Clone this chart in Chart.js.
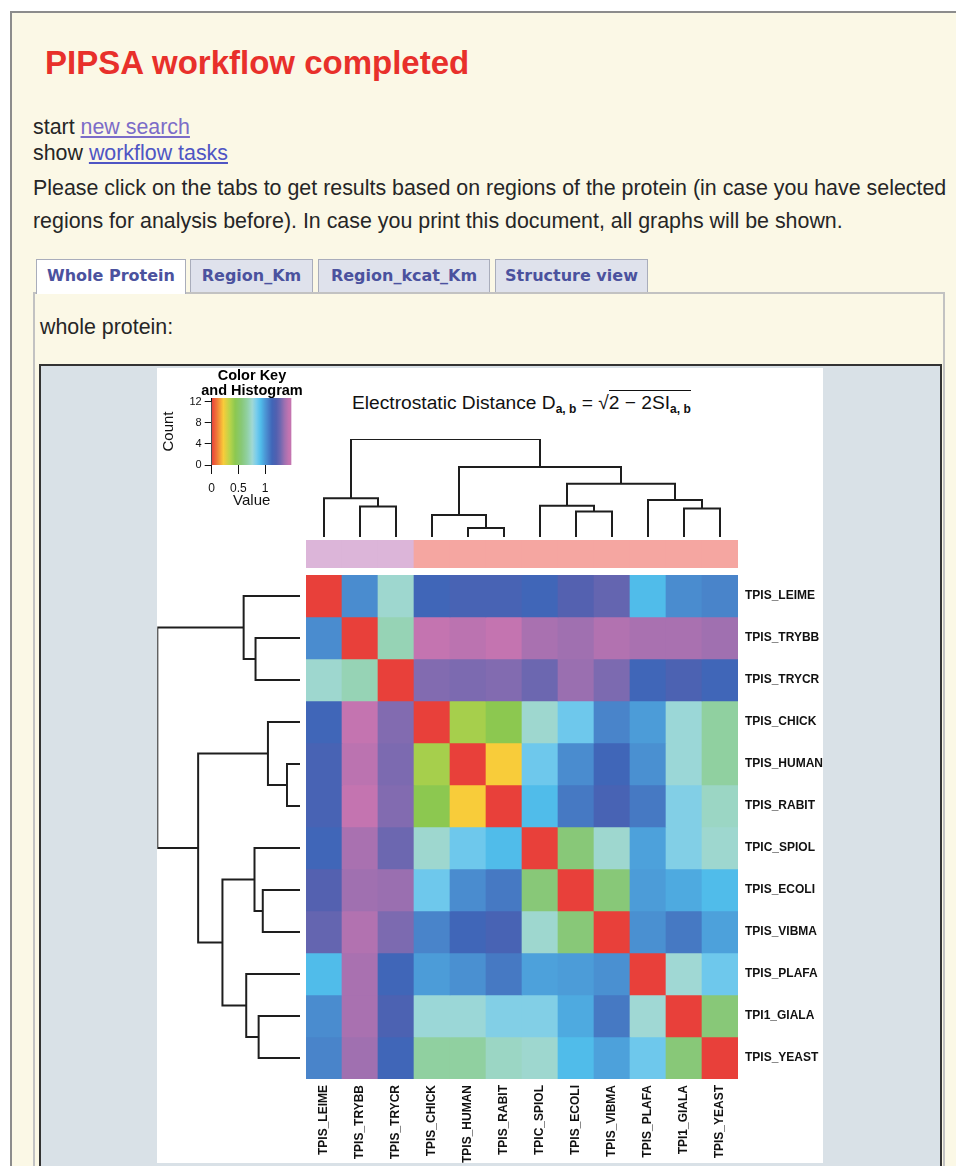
<!DOCTYPE html>
<html>
<head>
<meta charset="utf-8">
<title>PIPSA workflow completed</title>
<script src="https://cdn.jsdelivr.net/npm/chart.js@4.4.1/dist/chart.umd.min.js"></script>
<style>
  body { margin: 0; background: #fff; font-family: "Liberation Sans", Arial, sans-serif; color: #262626; }
  #page { position: relative; width: 956px; height: 1166px; overflow: hidden; }
  .abs { position: absolute; }
  #frame { left: 10px; top: 11px; width: 1000px; height: 1200px; border-left: 2px solid #8c8c8c; border-top: 2px solid #8c8c8c; background: #fbf8e6; }
  h1 { position: absolute; left: 45px; top: 43px; margin: 0; font-size: 33px; line-height: 40px; font-weight: bold; color: #e8302b; white-space: nowrap; }
  .txt { position: absolute; left: 33px; font-size: 21.4px; line-height: 24px; white-space: nowrap; }
  .visited { color: #7b6cc8; }
  .link { color: #4f55c4; }
  .tab { position: absolute; top: 259px; height: 33px; box-sizing: border-box; border: 1px solid #a9adbb; border-bottom: none;
         background: #dfe2ec; font-family: "DejaVu Sans", Verdana, sans-serif; font-weight: bold; font-size: 16px;
         line-height: 31px; color: #4b529e; text-align: center; white-space: nowrap; }
  .tab.active { background: #fff; height: 35px; z-index: 2; }
  #panel { left: 33px; top: 292px; width: 912px; height: 900px; box-sizing: border-box; border: 2px solid #c2c2c2; background: #fbf8e6; }
  #imgbox { left: 39px; top: 364px; width: 903px; height: 900px; box-sizing: border-box; border: 2px solid #333; background: #d9e1e7; }
  #figure { left: 157px; top: 368px; width: 666px; height: 795px; background: #fff; }
  #formula { left: 352px; top: 392px; font-size: 19.2px; line-height: 22px; color: #111; white-space: nowrap; }
  #formula sub { font-size: 12px; font-weight: bold; vertical-align: -4px; line-height: 0; }
  #formula .ov { border-top: 1.5px solid #111; padding-top: 1px; }
  canvas { position: absolute; }
</style>
</head>
<body>
<div id="page">
  <div id="frame" class="abs"></div>
  <h1>PIPSA workflow completed</h1>
  <div class="txt" style="top:115px">start <u class="visited">new search</u></div>
  <div class="txt" style="top:141px">show <u class="link">workflow tasks</u></div>
  <div class="txt" style="top:176px">Please click on the tabs to get results based on regions of the protein (in case you have selected</div>
  <div class="txt" style="top:209px">regions for analysis before). In case you print this document, all graphs will be shown.</div>

  <div id="panel" class="abs"></div>
  <div class="tab active" style="left:36px;width:150px">Whole Protein</div>
  <div class="tab" style="left:190px;width:123px">Region_Km</div>
  <div class="tab" style="left:318px;width:172px">Region_kcat_Km</div>
  <div class="tab" style="left:495px;width:153px">Structure view</div>

  <div class="txt" style="left:40px;top:315px">whole protein:</div>

  <div id="imgbox" class="abs"></div>
  <div id="figure" class="abs"></div>
  <div id="formula" class="abs">Electrostatic Distance D<sub>a, b</sub> = &radic;<span class="ov">2 &minus; 2SI<sub>a, b</sub></span></div>

  <canvas id="colorKey" width="184" height="141" style="left:160px;top:369px"></canvas>
  <canvas id="colDendro" width="432" height="102" style="left:306px;top:437px"></canvas>
  <canvas id="sideBar" width="432" height="28" style="left:306px;top:540px"></canvas>
  <canvas id="rowDendro" width="147" height="504" style="left:155px;top:575px"></canvas>
  <canvas id="heatmap" width="517" height="588" style="left:306px;top:575px"></canvas>
</div>

<script>
// proteins, same order for rows and columns (dendrogram order)
const rowNames = ['TPIS_LEIME', 'TPIS_TRYBB', 'TPIS_TRYCR', 'TPIS_CHICK', 'TPIS_HUMAN', 'TPIS_RABIT',
                  'TPIC_SPIOL', 'TPIS_ECOLI', 'TPIS_VIBMA', 'TPIS_PLAFA', 'TPI1_GIALA', 'TPIS_YEAST'];
const colNames = ['TPIS_LEIME', 'TPIS_TRYBB', 'TPIS_TRYCR', 'TPIS_CHICK', 'TPIS_HUMAN', 'TPIS_RABIT',
                  'TPIC_SPIOL', 'TPIS_ECOLI', 'TPIS_VIBMA', 'TPIS_PLAFA', 'TPI1_GIALA', 'TPIS_YEAST'];

// electrostatic distance
const distance = [
  [0,    1.03, 0.75, 1.13, 1.17, 1.17, 1.13, 1.22, 1.26, 0.92, 1.03, 1.05],
  [1.03, 0,    0.70, 1.45, 1.43, 1.45, 1.39, 1.37, 1.41, 1.39, 1.39, 1.37],
  [0.75, 0.70, 0,    1.32, 1.31, 1.32, 1.28, 1.36, 1.31, 1.13, 1.19, 1.13],
  [1.13, 1.45, 1.32, 0,    0.38, 0.44, 0.75, 0.86, 1.05, 0.99, 0.77, 0.66],
  [1.17, 1.43, 1.31, 0.38, 0,    0.22, 0.86, 1.03, 1.13, 1.02, 0.77, 0.66],
  [1.17, 1.45, 1.32, 0.44, 0.22, 0,    0.92, 1.08, 1.17, 1.08, 0.82, 0.73],
  [1.13, 1.39, 1.28, 0.75, 0.86, 0.92, 0,    0.56, 0.75, 0.98, 0.82, 0.75],
  [1.22, 1.37, 1.36, 0.86, 1.03, 1.08, 0.56, 0,    0.56, 0.99, 0.96, 0.92],
  [1.26, 1.41, 1.31, 1.05, 1.13, 1.17, 0.75, 0.56, 0,    1.02, 1.08, 0.98],
  [0.92, 1.39, 1.13, 0.99, 1.02, 1.08, 0.98, 0.99, 1.02, 0,    0.76, 0.86],
  [1.03, 1.39, 1.19, 0.77, 0.77, 0.82, 0.82, 0.96, 1.08, 0.76, 0,    0.56],
  [1.05, 1.37, 1.13, 0.66, 0.66, 0.73, 0.75, 0.92, 0.98, 0.86, 0.56, 0]
];

// cluster side colours above the columns
const colGroup = [1, 1, 1, 2, 2, 2, 2, 2, 2, 2, 2, 2];
const groupColors = ['#dcb5d9', '#f5a6a1'];

// hclust style merges: negative = leaf number, positive = earlier merge, then height
const merges = [
  [-5, -6, 0.126],
  [-4, 1, 0.31],
  [-8, -9, 0.36],
  [-11, -12, 0.40],
  [-2, -3, 0.43],
  [-7, 3, 0.44],
  [-10, 4, 0.52],
  [-1, 5, 0.545],
  [6, 7, 0.75],
  [2, 9, 0.985],
  [8, 10, 1.38]
];

// colour key
const keyStops  = [0, 0.10, 0.22, 0.34, 0.44, 0.56, 0.66, 0.76, 0.84, 0.92, 0.99, 1.06, 1.13, 1.21, 1.29, 1.37, 1.45];
const keyColors = ['#e8403a', '#f07a38', '#f8cc3a', '#b8d44a', '#8cc850', '#88c878', '#90d0a0', '#a0d8d4', '#78ccec',
                   '#50bcea', '#4c9cd8', '#4880c8', '#4066b8', '#5060b0', '#7068b0', '#a070b0', '#c474b0'];
const keyTicks = [0, 0.5, 1];
const histBreaks = [0, 0.05, 0.1, 0.15, 0.2, 0.25, 0.3, 0.35, 0.4, 0.45, 0.5, 0.55, 0.6, 0.65, 0.7, 0.75,
                    0.8, 0.85, 0.9, 0.95, 1.0, 1.05, 1.1, 1.15, 1.2, 1.25, 1.3, 1.35, 1.4, 1.45, 1.5];
const histCounts = [12, 0, 0, 0, 1, 0, 0, 1, 1, 0, 0, 3, 0, 2, 2, 7,
                    2, 3, 3, 5, 5, 5, 5, 4, 1, 2, 4, 5, 2, 2, 2];

Chart.defaults.font.family = '"Liberation Sans", Arial, sans-serif';
Chart.defaults.color = '#111';

function hexToRgb(h) {
  const n = parseInt(h.slice(1), 16);
  return [(n >> 16) & 255, (n >> 8) & 255, n & 255];
}

function colorFor(v) {
  let i = 1;
  while (i < keyStops.length - 1 && v > keyStops[i]) i++;
  const t = Math.max(0, Math.min(1, (v - keyStops[i - 1]) / (keyStops[i] - keyStops[i - 1])));
  const a = hexToRgb(keyColors[i - 1]), b = hexToRgb(keyColors[i]);
  const c = a.map((x, k) => Math.round(x + (b[k] - x) * t));
  return `rgb(${c[0]}, ${c[1]}, ${c[2]})`;
}

// turn the merges into bracket polylines: [leaf position, height]
function treeSegments(m) {
  const pos = [], hgt = [];
  const p = k => k < 0 ? -k - 1 : pos[k - 1];
  const h = k => k < 0 ? 0 : hgt[k - 1];
  m.forEach(([a, b, hh], i) => { pos[i] = (p(a) + p(b)) / 2; hgt[i] = hh; });
  return m.map(([a, b, hh]) => [[p(a), h(a)], [p(a), hh], [p(b), hh], [p(b), h(b)]]);
}

const segments = treeSegments(merges);
const treeTop = merges[merges.length - 1][2];
const noUi = {
  responsive: false,
  animation: false,
  events: [],
  plugins: { legend: { display: false }, tooltip: { enabled: false } }
};

// heatmap: one stacked dataset per row, coloured by distance
new Chart(document.getElementById('heatmap'), {
  type: 'bar',
  data: {
    labels: colNames,
    datasets: distance.map((row, r) => ({
      label: rowNames[r],
      data: row.map(() => 1),
      backgroundColor: row.map(colorFor),
      borderWidth: 0,
      categoryPercentage: 1,
      barPercentage: 1
    }))
  },
  options: {
    ...noUi,
    layout: { padding: 0 },
    scales: {
      x: {
        stacked: true,
        grid: { display: false, drawTicks: false },
        border: { display: false },
        ticks: { minRotation: 90, maxRotation: 90, autoSkip: false, padding: 6, color: '#111',
                 font: { size: 12, weight: 'bold' } },
        afterFit: s => { s.height = 84; s.paddingLeft = 0; s.paddingRight = 0; }
      },
      y: {
        stacked: true,
        position: 'right',
        reverse: true,
        min: 0,
        max: rowNames.length,
        grid: { display: false, drawTicks: false },
        border: { display: false },
        afterBuildTicks: s => { s.ticks = rowNames.map((n, i) => ({ value: i + 0.5 })); },
        ticks: { autoSkip: false, padding: 7, color: '#111', font: { size: 12, weight: 'bold' },
                 callback: v => rowNames[Math.floor(v)] },
        afterFit: s => { s.width = 85; s.paddingTop = 0; s.paddingBottom = 0; }
      }
    }
  }
});

// side colour bar
new Chart(document.getElementById('sideBar'), {
  type: 'bar',
  data: {
    labels: colNames,
    datasets: [{
      data: colGroup.map(() => 1),
      backgroundColor: colGroup.map(g => groupColors[g - 1]),
      borderWidth: 0,
      categoryPercentage: 1,
      barPercentage: 1
    }]
  },
  options: {
    ...noUi,
    layout: { padding: 0 },
    scales: { x: { display: false }, y: { display: false, min: 0, max: 1 } }
  }
});

const lineStyle = { showLine: true, borderColor: '#1e1e1e', borderWidth: 2, pointRadius: 0, fill: false };

// column dendrogram
new Chart(document.getElementById('colDendro'), {
  type: 'scatter',
  data: {
    datasets: segments.map(seg => ({ ...lineStyle, data: seg.map(([x, y]) => ({ x, y })) }))
  },
  options: {
    ...noUi,
    layout: { padding: { top: 2, bottom: 2, left: 0, right: 0 } },
    scales: {
      x: { type: 'linear', display: false, min: -0.5, max: colNames.length - 0.5 },
      y: { type: 'linear', display: false, min: 0, max: treeTop }
    }
  }
});

// row dendrogram
new Chart(document.getElementById('rowDendro'), {
  type: 'scatter',
  data: {
    datasets: segments.map(seg => ({ ...lineStyle, data: seg.map(([y, x]) => ({ x, y })) }))
  },
  options: {
    ...noUi,
    layout: { padding: { top: 0, bottom: 0, left: 2.3, right: 2 } },
    scales: {
      x: { type: 'linear', display: false, reverse: true, min: 0, max: treeTop },
      y: { type: 'linear', display: false, reverse: true, min: -0.5, max: rowNames.length - 0.5 }
    }
  }
});

// colour key with histogram
const countMax = 12.7;
const valueMax = histBreaks[histBreaks.length - 1];
new Chart(document.getElementById('colorKey'), {
  type: 'line',
  data: {
    datasets: [{
      data: [{ x: 0, y: countMax }, { x: valueMax, y: countMax }],
      borderWidth: 0,
      pointRadius: 0,
      fill: 'origin',
      backgroundColor: context => {
        const { chart } = context;
        if (!chart.chartArea) return 'transparent';
        const xs = chart.scales.x;
        const x0 = xs.getPixelForValue(0), x1 = xs.getPixelForValue(valueMax);
        const g = chart.ctx.createLinearGradient(x0, 0, x1, 0);
        keyStops.forEach((s, i) => g.addColorStop(s / valueMax, keyColors[i]));
        return g;
      }
    }, {
      data: histBreaks.map((b, i) => ({ x: b, y: histCounts[i] })),
      stepped: 'after',
      borderColor: 'rgba(235, 252, 255, 0.9)',
      borderWidth: 1.3,
      pointRadius: 0,
      fill: false
    }]
  },
  options: {
    ...noUi,
    layout: { padding: 0 },
    plugins: {
      ...noUi.plugins,
      title: {
        display: true,
        text: ['Color Key', 'and Histogram'],
        color: '#000',
        font: { size: 14.5, weight: 'bold', lineHeight: 1.0 },
        padding: 0
      }
    },
    scales: {
      x: {
        type: 'linear',
        min: 0,
        max: valueMax,
        afterBuildTicks: s => { s.ticks = keyTicks.map(v => ({ value: v })); },
        grid: { drawOnChartArea: false, drawTicks: true, tickLength: 9, color: '#111' },
        border: { display: false },
        ticks: { padding: 7, font: { size: 12 }, color: '#111', callback: v => String(v) },
        title: { display: true, text: 'Value', font: { size: 15 }, padding: 0, color: '#111' },
        afterFit: s => { s.height = 45; s.paddingLeft = 0; s.paddingRight = 0; }
      },
      y: {
        type: 'linear',
        min: 0,
        max: countMax,
        grid: { drawOnChartArea: false, drawTicks: true, tickLength: 7, color: '#111' },
        border: { display: true, color: '#111' },
        ticks: { stepSize: 2, includeBounds: false, padding: 3, font: { size: 11 }, color: '#111',
                 callback: v => v % 4 === 0 ? String(v) : '' },
        title: { display: true, text: 'Count', font: { size: 15 }, padding: 0, color: '#111' },
        afterFit: s => { s.width = 51.7; s.paddingTop = 0; s.paddingBottom = 0; }
      },
      yRight: {
        type: 'linear',
        position: 'right',
        grid: { display: false },
        border: { display: false },
        ticks: { display: false },
        afterFit: s => { s.width = 52.3; }
      }
    }
  }
});
</script>
</body>
</html>
